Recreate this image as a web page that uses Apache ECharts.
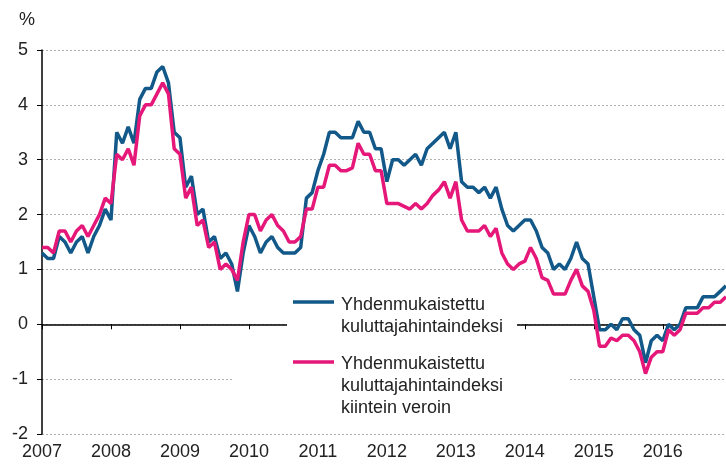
<!DOCTYPE html>
<html>
<head>
<meta charset="utf-8">
<script src="https://cdn.jsdelivr.net/npm/echarts@6/dist/echarts.min.js"></script>
<style>
  html, body { margin: 0; padding: 0; background: #fff; }
  #chart { width: 726px; height: 467px; }
</style>
</head>
<body>
<div id="chart"></div>
<script>
// monthly values, Jan 2007 .. Dec 2016
let years = ['2007', '2008', '2009', '2010', '2011', '2012', '2013', '2014', '2015', '2016'];

let yhdenmukaistettu = [
  1.3, 1.2, 1.2, 1.6, 1.5, 1.3, 1.5, 1.6, 1.3, 1.6, 1.8, 2.1,
  1.9, 3.5, 3.3, 3.6, 3.3, 4.1, 4.3, 4.3, 4.6, 4.7, 4.4, 3.5,
  3.4, 2.5, 2.7, 2.0, 2.1, 1.5, 1.6, 1.2, 1.3, 1.1, 0.6, 1.3,
  1.8, 1.6, 1.3, 1.5, 1.6, 1.4, 1.3, 1.3, 1.3, 1.4, 2.3, 2.4,
  2.8, 3.1, 3.5, 3.5, 3.4, 3.4, 3.4, 3.7, 3.5, 3.5, 3.2, 3.2,
  2.6, 3.0, 3.0, 2.9, 3.0, 3.1, 2.9, 3.2, 3.3, 3.4, 3.5, 3.2,
  3.5, 2.6, 2.5, 2.5, 2.4, 2.5, 2.3, 2.5, 2.1, 1.8, 1.7, 1.8,
  1.9, 1.9, 1.7, 1.4, 1.3, 1.0, 1.1, 1.0, 1.2, 1.5, 1.2, 1.1,
  0.5, -0.1, -0.1, 0.0, -0.1, 0.1, 0.1, -0.1, -0.2, -0.7, -0.3, -0.2,
  -0.3, 0.0, -0.1, 0.0, 0.3, 0.3, 0.3, 0.5, 0.5, 0.5, 0.6, 0.7
];

let kiinteinVeroin = [
  1.4, 1.4, 1.3, 1.7, 1.7, 1.5, 1.7, 1.8, 1.6, 1.8, 2.0, 2.3,
  2.2, 3.1, 3.0, 3.2, 2.9, 3.8, 4.0, 4.0, 4.2, 4.4, 4.2, 3.2,
  3.1, 2.3, 2.5, 1.8, 1.9, 1.4, 1.5, 1.0, 1.1, 1.0, 0.8, 1.5,
  2.0, 2.0, 1.7, 1.9, 2.0, 1.8, 1.7, 1.5, 1.5, 1.6, 2.1, 2.1,
  2.5, 2.5, 2.9, 2.9, 2.8, 2.8, 2.85, 3.3, 3.1, 3.1, 2.8, 2.8,
  2.2, 2.2, 2.2, 2.15, 2.1, 2.2, 2.1, 2.2, 2.35, 2.45, 2.6, 2.3,
  2.6, 1.9, 1.7, 1.7, 1.7, 1.8, 1.6, 1.75, 1.3, 1.1, 1.0, 1.1,
  1.15, 1.4, 1.2, 0.85, 0.8, 0.55, 0.55, 0.55, 0.8, 1.0, 0.7, 0.6,
  0.25, -0.4, -0.4, -0.25, -0.3, -0.2, -0.2, -0.3, -0.5, -0.9, -0.6, -0.5,
  -0.5, -0.1, -0.2, -0.1, 0.2, 0.2, 0.2, 0.3, 0.3, 0.4, 0.4, 0.5
];

let blue = '#12598a';
let pink = '#e5187a';
let font = 'Liberation Sans, Arial, sans-serif';

function toPoints(arr) {
  return arr.map(function (v, i) { return [i, v]; });
}

let myChart = echarts.init(document.getElementById('chart'));
myChart.setOption({
  animation: false,
  grid: { left: 42, right: 0, top: 50, bottom: 33, outerBoundsMode: 'none' },
  xAxis: {
    type: 'value',
    min: 0,
    max: 119,
    interval: 12,
    axisLine: { show: true, lineStyle: { color: '#000', width: 1.5 } },
    axisTick: { show: true, length: 5, lineStyle: { color: '#000' } },
    axisLabel: {
      color: '#222', fontSize: 18, fontFamily: font, margin: 9,
      formatter: function (v) { return years[v / 12] || ''; }
    },
    splitLine: { show: false }
  },
  yAxis: {
    type: 'value',
    min: -2,
    max: 5,
    interval: 1,
    name: '%',
    nameLocation: 'end',
    nameGap: 21,
    nameTextStyle: { color: '#222', fontSize: 18, fontFamily: font, align: 'right', padding: [0, 7, 0, 0] },
    axisLine: { show: true, lineStyle: { color: '#000', width: 1.5 } },
    axisTick: { show: true, length: 5, lineStyle: { color: '#000' } },
    axisLabel: { color: '#222', fontSize: 18, fontFamily: font, margin: 14 },
    splitLine: {
      show: true,
      lineStyle: { color: '#b0b0b0', type: [2, 2], width: 1 }
    }
  },
  series: [
    {
      name: 'Yhdenmukaistettu kuluttajahintaindeksi',
      type: 'line',
      data: toPoints(yhdenmukaistettu),
      showSymbol: false,
      lineStyle: { color: blue, width: 3.5 },
      itemStyle: { color: blue }
    },
    {
      name: 'Yhdenmukaistettu kuluttajahintaindeksi kiintein veroin',
      type: 'line',
      data: toPoints(kiinteinVeroin),
      showSymbol: false,
      lineStyle: { color: pink, width: 3.5 },
      itemStyle: { color: pink }
    }
  ],
  graphic: [
    { type: 'rect', z: 100, shape: { x: 287, y: 288, width: 230, height: 52 }, style: { fill: '#fff' } },
    { type: 'rect', z: 100, shape: { x: 232, y: 348, width: 338, height: 74 }, style: { fill: '#fff' } },
    { type: 'line', z: 101, shape: { x1: 293, y1: 302, x2: 334, y2: 302 }, style: { stroke: blue, lineWidth: 3.5 } },
    { type: 'line', z: 101, shape: { x1: 293, y1: 362, x2: 334, y2: 362 }, style: { stroke: pink, lineWidth: 3.5 } },
    {
      type: 'text', z: 101, x: 341, y: 294,
      style: { text: 'Yhdenmukaistettu\nkuluttajahintaindeksi', font: '18px ' + font, fill: '#222', lineHeight: 22, verticalAlign: 'top' }
    },
    {
      type: 'text', z: 101, x: 341, y: 353,
      style: { text: 'Yhdenmukaistettu\nkuluttajahintaindeksi\nkiintein veroin', font: '18px ' + font, fill: '#222', lineHeight: 22, verticalAlign: 'top' }
    }
  ]
});
</script>
</body>
</html>
